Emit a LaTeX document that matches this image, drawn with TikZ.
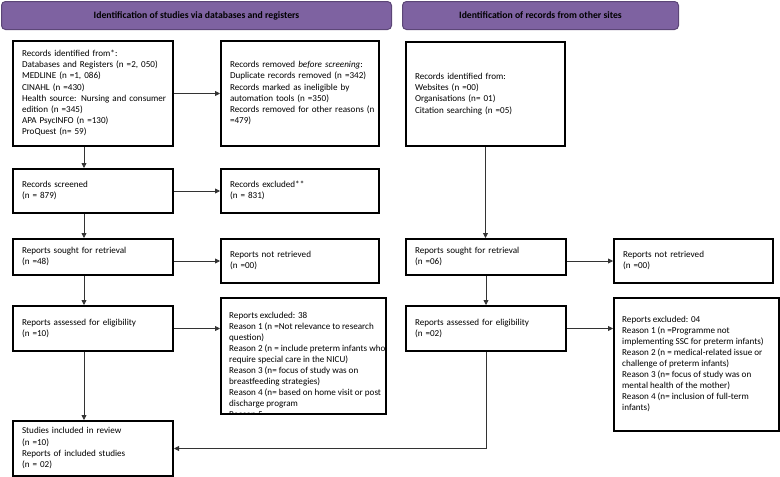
\documentclass[tikz,border=0pt]{standalone}
\usepackage{fontspec}
\setmainfont{Carlito}
\usetikzlibrary{arrows.meta}
\definecolor{hfill}{HTML}{7E62A1}
\definecolor{hdraw}{HTML}{5C4677}
\newcommand{\lines}[1]{\begin{tabular}{@{}l@{}}#1\end{tabular}}
\tikzset{
  box/.style={draw=black, line width=2pt, fill=white, inner xsep=9pt, inner ysep=0pt, anchor=north west, align=left, font=\fontsize{9.1}{11.2}\selectfont},
  hdr/.style={draw=hdraw, fill=hfill, line width=1pt, rounded corners=4pt, anchor=north west, font=\bfseries\fontsize{9.7}{11}\selectfont},
  txt/.style={inner sep=0pt, anchor=north west, align=left, font=\fontsize{9.1}{11}\selectfont},
  conn/.style={draw=black!80, line width=0.8pt, -{Triangle[length=5pt,width=5pt]}}
}
\begin{document}
\begin{tikzpicture}[x=1pt,y=-1pt]
\useasboundingbox (0,0) rectangle (780,477);
% headers
\node[hdr, minimum width=390, minimum height=28] (h1) at (1,1) {Identification of studies via databases and registers};
\node[hdr, minimum width=276, minimum height=28] (h2) at (402,1) {Identification of records from other sites};
% left column
\node[box, text width=142, minimum height=105] (A) at (12,40) {\lines{Records identified from*:\\Databases and Registers (n =2, 050)\\MEDLINE (n =1, 086)\\CINAHL (n =430)\\Health source: Nursing and consumer\\edition (n =345)\\APA PsycINFO (n =130)\\ProQuest (n= 59)}};
\node[box, text width=140, minimum height=105] (B) at (220,40) {\lines{Records removed \textit{before screening}:\\Duplicate records removed (n =342)\\Records marked as ineligible by\\automation tools (n =350)\\Records removed for other reasons (n\\=479)}};
\node[box, text width=142, minimum height=44] (S) at (12,168) {\lines{Records screened\\(n = 879)}};
\node[box, text width=140, minimum height=44] (E) at (220,168) {\lines{Records excluded**\\(n = 831)}};
\node[box, text width=142, minimum height=36] (R) at (12,238) {\lines{Reports sought for retrieval\\(n =48)}};
\node[box, text width=140, minimum height=44] (N) at (220,238) {\lines{Reports not retrieved\\(n =00)}};
\node[box, text width=142, minimum height=45] (Ae) at (12,305) {\lines{Reports assessed for eligibility\\(n =10)}};
\node[box, text width=147, minimum height=116] (X) at (220,297) {};
\begin{scope}
\clip ([shift={(1,1)}]X.north west) rectangle ([shift={(-1,-1)}]X.south east);
\node[txt] (Xt) at (229,311) {\lines{Reports excluded: 38\\Reason 1 (n =Not relevance to research\\question)\\Reason 2 (n = include preterm infants who\\require special care in the NICU)\\Reason 3 (n= focus of study was on\\breastfeeding strategies)\\Reason 4 (n= based on home visit or post\\discharge program\\Reason 5}};
\end{scope}
\node[box, text width=142, minimum height=55] (I) at (12,420) {\lines{Studies included in review\\(n =10)\\Reports of included studies\\(n = 02)}};
% right column
\node[box, text width=141, minimum height=104] (C) at (405,41) {\lines{Records identified from:\\Websites (n =00)\\Organisations (n= 01)\\Citation searching (n =05)}};
\node[box, text width=142, minimum height=36] (R2) at (405,238) {\lines{Reports sought for retrieval\\(n =06)}};
\node[box, text width=141, minimum height=44] (N2) at (613,238) {\lines{Reports not retrieved\\(n =00)}};
\node[box, text width=142, minimum height=45] (A2) at (405,305) {\lines{Reports assessed for eligibility\\(n =02)}};
\node[box, text width=147, minimum height=133] (X2) at (613,297) {};
\node[txt] (X2t) at (622,315) {\lines{Reports excluded: 04\\Reason 1 (n =Programme not\\implementing SSC for preterm infants)\\Reason 2 (n = medical-related issue or\\challenge of preterm infants)\\Reason 3 (n= focus of study was on\\mental health of the mother)\\Reason 4 (n= inclusion of full-term\\infants)}};
% connectors
\draw[conn] (A.east) -- (A.east -| B.west);
\draw[conn] ([xshift=-9pt]A.south) -- ([xshift=-9pt]A.south |- S.north);
\draw[conn] (S.east) -- (S.east -| E.west);
\draw[conn] ([xshift=-9pt]S.south) -- ([xshift=-9pt]S.south |- R.north);
\draw[conn] (R.east |- N.west) -- (N.west);
\draw[conn] ([xshift=-9pt]R.south) -- ([xshift=-9pt]R.south |- Ae.north);
\draw[conn] (Ae.east) -- (Ae.east -| X.west);
\draw[conn] ([xshift=-9pt]Ae.south) -- ([xshift=-9pt]Ae.south |- I.north);
\draw[conn] (C.south) -- (C.south |- R2.north);
\draw[conn] (R2.east |- N2.west) -- (N2.west);
\draw[conn] (R2.south) -- (A2.north);
\draw[conn] (A2.east) -- (A2.east -| X2.west);
\draw[conn] (A2.south) |- (I.east);
\end{tikzpicture}
\end{document}
